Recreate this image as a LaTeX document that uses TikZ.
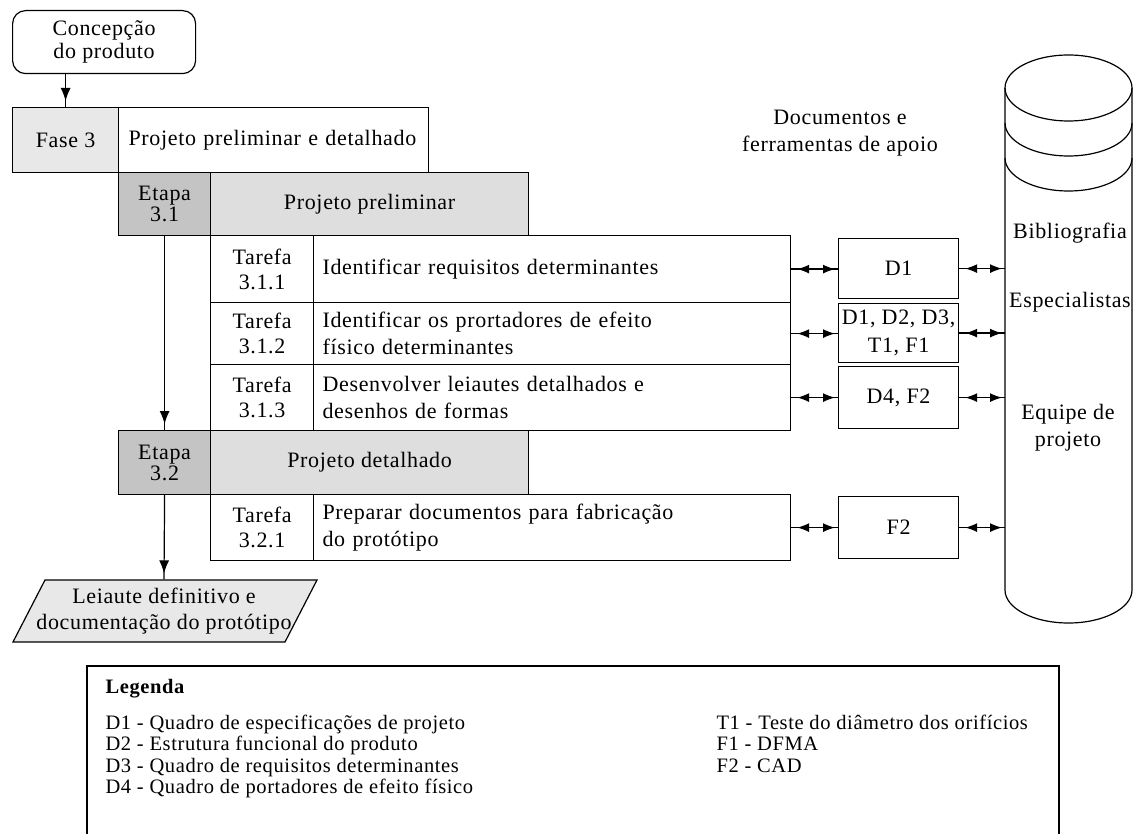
\documentclass[tikz,border=0pt]{standalone}
\usepackage{fontspec}
\setmainfont{Liberation Serif}[LetterSpace=3]
\usetikzlibrary{arrows.meta,decorations.markings}
\definecolor{faseFill}{HTML}{E8E8E8}
\definecolor{etapaFill}{HTML}{C4C4C4}
\definecolor{titFill}{HTML}{DEDEDE}
\begin{document}
\begin{tikzpicture}[x=1pt,y=-1pt,line width=1.2pt,
  every node/.style={font=\fontsize{22}{25}\selectfont, inner sep=0pt},
  cbox/.style 2 args={draw, minimum width=#1, minimum height=#2, anchor=north west, align=center},
  ltask/.style={draw, anchor=north west, inner sep=0pt, inner xsep=9pt, text width=459pt, minimum height=#1, align=left, font=\fontsize{22}{27}\selectfont},
  downtip/.style={postaction=decorate, decoration={markings, mark=at position -6pt with {\arrow{Latex[length=13pt,width=10pt]}}}},
  dbl/.style={postaction=decorate, decoration={markings,
     mark=at position 6pt with {\arrowreversed{Latex[length=12pt,width=9pt]}},
     mark=at position -3pt with {\arrow{Latex[length=12pt,width=9pt]}}}}
]
\useasboundingbox (0,0) rectangle (1133,834);

% left column
\node[cbox={183}{63}, rounded corners=13pt, font=\fontsize{22}{23}\selectfont] (concep) at (12,10) {Concepção\\do produto};
\node[cbox={106}{65}, fill=faseFill] (fase) at (12,107) {Fase 3};
\node[draw, anchor=north west, minimum height=65, inner xsep=10pt, text width=290pt, align=left] (phase) at (118,107) {Projeto preliminar e detalhado};
\node[cbox={92}{63}, fill=etapaFill, font=\fontsize{22}{21}\selectfont] (et31) at (118,172) {Etapa\\3.1};
\node[cbox={318}{63}, fill=titFill] (pp) at (210,172) {Projeto preliminar};

\node[cbox={103}{67}] (lab1) at (210,235) {Tarefa\\3.1.1};
\node[ltask=67] (t1) at (313,235) {Identificar requisitos determinantes};
\node[cbox={103}{62}] (lab2) at (210,302) {Tarefa\\3.1.2};
\node[ltask=62] (t2) at (313,302) {Identificar os prortadores de efeito\\físico determinantes};
\node[cbox={103}{66}] (lab3) at (210,364) {Tarefa\\3.1.3};
\node[ltask=66] (t3) at (313,364) {Desenvolver leiautes detalhados e\\desenhos de formas};

\node[cbox={92}{64}, fill=etapaFill, font=\fontsize{22}{21}\selectfont] (et32) at (118,430) {Etapa\\3.2};
\node[cbox={318}{64}, fill=titFill] (pd) at (210,430) {Projeto detalhado};
\node[cbox={103}{66}] (lab4) at (210,494) {Tarefa\\3.2.1};
\node[ltask=66] (t4) at (313,494) {Preparar documentos para fabricação\\do protótipo};

% output parallelogram
\filldraw[fill=faseFill] (45,580) -- (317,580) -- (285,642) -- (13,642) -- cycle;
\node[minimum width=240, minimum height=62, align=center, font=\fontsize{22}{26}\selectfont] (leia) at (164,611) {Leiaute definitivo e\\documentação do protótipo};

% documents
\node[align=center, font=\fontsize{22}{27}\selectfont] (docs) at (840,133) {Documentos e\\ferramentas de apoio};
\node[cbox={120}{60}] (d1) at (838,238) {D1};
\node[cbox={120}{59}, font=\fontsize{22}{28}\selectfont] (d2) at (838,303) {D1, D2, D3,\\T1, F1};
\node[cbox={120}{62}] (d3) at (838,366) {D4, F2};
\node[cbox={120}{62}] (f2) at (838,496) {F2};

% cylinder
\draw (1005,88) arc[start angle=180, end angle=540, x radius=63.5, y radius=33];
\draw (1005,123) arc[start angle=180, end angle=0, x radius=63.5, y radius=33];
\draw (1005,158) arc[start angle=180, end angle=0, x radius=63.5, y radius=33];
\draw (1005,88) -- (1005,590) arc[start angle=180, end angle=0, x radius=63.5, y radius=33] -- (1132,88);
\coordinate (cylL) at (1005,400);
\node (bib) at (1070,233) {Bibliografia};
\node (esp) at (1070,302) {Especialistas};
\node[align=center, font=\fontsize{22}{27}\selectfont] (equ) at (1068,428) {Equipe de\\projeto};

% connectors
\draw[downtip] (fase.north |- concep.south) -- (fase.north);
\draw[downtip] (et31.south) -- (et32.north);
\draw[downtip] (et32.south) -- (leia.north);
\draw[dbl] (t1.east) -- (t1.east -| d1.west);
\draw[dbl] (t2.east) -- (t2.east -| d2.west);
\draw[dbl] (t3.east) -- (t3.east -| d3.west);
\draw[dbl] (t4.east) -- (t4.east -| f2.west);
\draw[dbl] (d1.east) -- (d1.east -| cylL);
\draw[dbl] (d2.east) -- (d2.east -| cylL);
\draw[dbl] (d3.east) -- (d3.east -| cylL);
\draw[dbl] (f2.east) -- (f2.east -| cylL);

% legend
\draw (87,840) -- (87,666) -- (1059,666) -- (1059,840);
\node[anchor=west, font=\bfseries\fontsize{20.5}{22}\selectfont] (legt) at (105,689) {Legenda};
\node[anchor=north west, align=left, font=\fontsize{20.5}{21.5}\selectfont] (legl) at (105,714) {D1 - Quadro de especificações de projeto\\D2 - Estrutura funcional do produto\\D3 - Quadro de requisitos determinantes\\D4 - Quadro de portadores de efeito físico};
\node[anchor=north west, align=left, font=\fontsize{20.5}{21.5}\selectfont] (legr) at (716,714) {T1 - Teste do diâmetro dos orifícios\\F1 - DFMA\\F2 - CAD};
\end{tikzpicture}
\end{document}
